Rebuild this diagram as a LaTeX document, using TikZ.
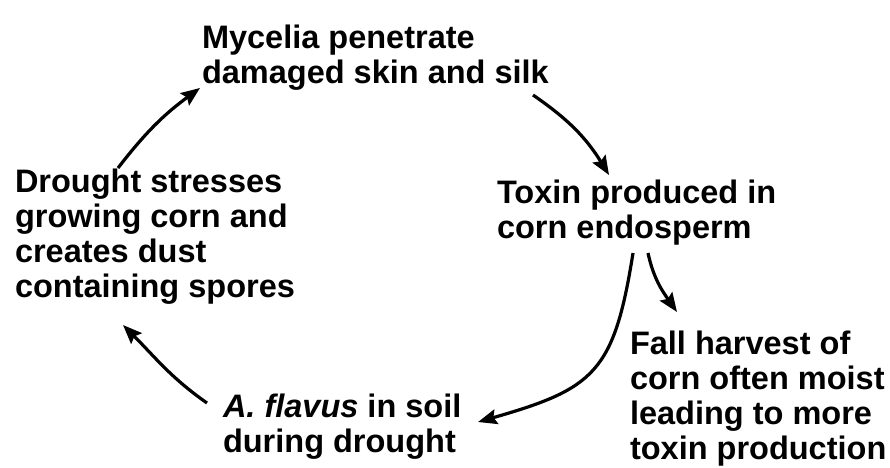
\documentclass[tikz,border=0pt]{standalone}
\usepackage{fontspec}
\setmainfont{Liberation Sans}
\usetikzlibrary{arrows.meta,calc}
\begin{document}
\begin{tikzpicture}[x=1pt,y=1pt,
  lbl/.style={anchor=base west,inner sep=0pt,outer sep=0pt,align=left,
    font=\fontsize{32.5}{35}\selectfont\bfseries},
  arr/.style={line width=3.2pt,-{Stealth[length=19pt,width=15pt,inset=3pt]}}]
\useasboundingbox (0,0) rectangle (890,-467);
% base west = baseline of the last line
\node[lbl] (myc) at (202,-83) {Mycelia penetrate\\damaged skin and silk};
\node[lbl] (dro) at (15,-297) {Drought stresses\\growing corn and\\creates dust\\containing spores};
\node[lbl] (tox) at (497,-238) {Toxin produced in\\corn endosperm};
\node[lbl] (fal) at (630,-459) {Fall harvest of\\corn often moist\\leading to more\\toxin production};
\node[lbl] (afl) at (223,-452) {\textit{A. flavus} in soil\\during drought};
% connectors
\draw[arr] ($(myc.base west)+(331,-12)$) to[bend left=12] ($(tox.base west)+(112,63)$);
\draw[arr] ($(tox.base west)+(136,-15)$) to[out=-99,in=16,looseness=1.35] ($(afl.base west)+(255,30)$);
\draw[arr] ($(tox.base west)+(151,-15)$) to[out=-78,in=125] ($(fal.base west)+(47,147)$);
\draw[arr] ($(afl.base west)+(-16,49)$) to[out=145,in=-45] ($(dro.base west)+(108,-28)$);
\draw[arr] ($(dro.base west)+(103,129)$) to[bend left=8] ($(myc.base west)+(-2,-5)$);
\end{tikzpicture}
\end{document}
